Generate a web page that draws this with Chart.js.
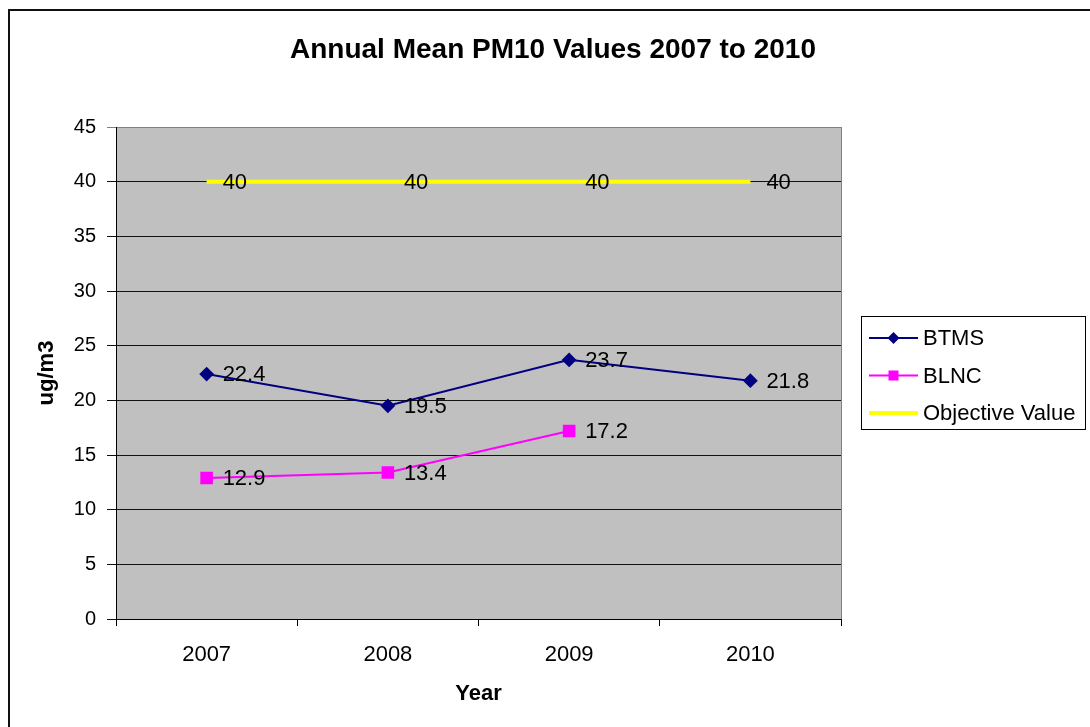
<!DOCTYPE html>
<html>
<head>
<meta charset="utf-8">
<title>Annual Mean PM10 Values 2007 to 2010</title>
<script src="https://cdn.jsdelivr.net/npm/chart.js@4/dist/chart.umd.min.js"></script>
<style>
	html, body { margin: 0; padding: 0; background: #fff; }
	#wrap { width: 1090px; height: 727px; }
</style>
</head>
<body>
<div id="wrap"><canvas id="pm10" width="1090" height="727"></canvas></div>
<script>
var years = [ '2007', '2008', '2009', '2010' ];
var btms = [ 22.4, 19.5, 23.7, 21.8 ];
var blnc = [ 12.9, 13.4, 17.2, null ];
var objective = [ 40, 40, 40, 40 ];
var yTicks = [ 0, 5, 10, 15, 20, 25, 30, 35, 40, 45 ];
var chartTitle = 'Annual Mean PM10 Values 2007 to 2010';

( function () {
	'use strict';

	var FONT = '"Liberation Sans", Arial, sans-serif';

	// gray plot area, outer chart frame and the title (centred on the frame, not the plot)
	var plotBackground = {
		id: 'plotBackground',
		beforeDraw: function ( chart ) {
			var ctx = chart.ctx;
			var a = chart.chartArea;
			ctx.save();
			ctx.fillStyle = '#fff';
			ctx.fillRect( 0, 0, chart.width, chart.height );
			ctx.fillStyle = '#c0c0c0';
			ctx.fillRect( a.left, a.top, a.right - a.left, a.bottom - a.top );
			ctx.strokeStyle = '#111';
			ctx.lineWidth = 2;
			ctx.strokeRect( 9, 10, chart.width + 20, chart.height + 20 );
			ctx.fillStyle = '#000';
			ctx.font = 'bold 28px ' + FONT;
			ctx.textAlign = 'center';
			ctx.textBaseline = 'middle';
			ctx.fillText( chartTitle, 553, 50 );
			ctx.restore();
		},
		beforeDatasetsDraw: function ( chart ) {
			var ctx = chart.ctx;
			var a = chart.chartArea;
			ctx.save();
			ctx.strokeStyle = '#808080';
			ctx.lineWidth = 1;
			ctx.beginPath();
			ctx.moveTo( a.right + 0.5, a.top );
			ctx.lineTo( a.right + 0.5, a.bottom );
			ctx.stroke();
			ctx.restore();
		},
	};

	var valueLabels = {
		id: 'valueLabels',
		afterDatasetsDraw: function ( chart ) {
			var ctx = chart.ctx;
			ctx.save();
			ctx.font = '22px ' + FONT;
			ctx.fillStyle = '#000';
			ctx.textAlign = 'left';
			ctx.textBaseline = 'middle';
			chart.data.datasets.forEach( function ( ds, i ) {
				var meta = chart.getDatasetMeta( i );
				meta.data.forEach( function ( pt, j ) {
					var v = ds.data[ j ];
					if ( v === null || v === undefined ) {
						return;
					}
					ctx.fillText( String( v ), pt.x + 16, pt.y + 1 );
				} );
			} );
			ctx.restore();
		},
	};

	// Excel style boxed legend on the right
	var boxLegend = {
		id: 'boxLegend',
		afterDraw: function ( chart ) {
			var ctx = chart.ctx;
			var left = 861, top = 316, w = 224, h = 113;
			ctx.save();
			ctx.fillStyle = '#fff';
			ctx.fillRect( left, top, w, h );
			ctx.strokeStyle = '#000';
			ctx.lineWidth = 1;
			ctx.strokeRect( left + 0.5, top + 0.5, w, h );
			ctx.font = '22px ' + FONT;
			ctx.textAlign = 'left';
			ctx.textBaseline = 'middle';
			chart.data.datasets.forEach( function ( ds, i ) {
				var y = top + 22 + i * 37.5;
				var x0 = left + 8, x1 = left + 57, cx = ( x0 + x1 ) / 2;
				ctx.strokeStyle = ds.borderColor;
				ctx.lineWidth = ds.borderWidth;
				ctx.beginPath();
				ctx.moveTo( x0, y );
				ctx.lineTo( x1, y );
				ctx.stroke();
				ctx.fillStyle = ds.pointBackgroundColor;
				if ( ds.pointStyle === 'rectRot' && ds.pointRadius ) {
					ctx.beginPath();
					ctx.moveTo( cx, y - 6 );
					ctx.lineTo( cx + 6, y );
					ctx.lineTo( cx, y + 6 );
					ctx.lineTo( cx - 6, y );
					ctx.closePath();
					ctx.fill();
				} else if ( ds.pointStyle === 'rect' && ds.pointRadius ) {
					ctx.fillRect( cx - 5, y - 5, 10, 10 );
				}
				ctx.fillStyle = '#000';
				ctx.fillText( ds.label, left + 62, y + 1 );
			} );
			ctx.restore();
		},
	};

	function initChart() {
		var canvas = document.getElementById( 'pm10' );
		Chart.defaults.font.family = FONT;
		Chart.defaults.color = '#000';

		new Chart( canvas, {
			type: 'line',
			data: {
				labels: years,
				datasets: [
					{
						label: 'BTMS',
						data: btms,
						borderColor: '#000080',
						backgroundColor: '#000080',
						pointBackgroundColor: '#000080',
						pointBorderColor: '#000080',
						borderWidth: 2,
						pointStyle: 'rectRot',
						pointRadius: 6,
						tension: 0,
					},
					{
						label: 'BLNC',
						data: blnc,
						borderColor: '#ff00ff',
						backgroundColor: '#ff00ff',
						pointBackgroundColor: '#ff00ff',
						pointBorderColor: '#ff00ff',
						borderWidth: 2,
						pointStyle: 'rect',
						pointRadius: 7.5,
						tension: 0,
					},
					{
						label: 'Objective Value',
						data: objective,
						borderColor: '#ffff00',
						backgroundColor: '#ffff00',
						pointBackgroundColor: '#ffff00',
						borderWidth: 4,
						pointRadius: 0,
						tension: 0,
					},
				],
			},
			options: {
				responsive: false,
				animation: false,
				events: [],
				layout: {
					padding: { top: 127, left: 20, right: 249, bottom: 8 },
				},
				plugins: {
					legend: { display: false },
					tooltip: { enabled: false },
					title: { display: false },
				},
				scales: {
					x: {
						type: 'category',
						offset: true,
						afterFit: function ( scale ) {
							scale.height = 100;
						},
						grid: {
							offset: true,
							drawOnChartArea: false,
							tickLength: 7,
							color: '#000',
						},
						border: { color: '#000', width: 1 },
						ticks: {
							color: '#000',
							font: { size: 22 },
							padding: 16,
						},
						title: {
							display: true,
							text: 'Year',
							color: '#000',
							font: { size: 22, weight: 'bold' },
							padding: { top: 0, bottom: 12 },
						},
					},
					y: {
						min: 0,
						max: 45,
						afterFit: function ( scale ) {
							scale.width = 96;
						},
						afterBuildTicks: function ( scale ) {
							scale.ticks = yTicks.map( function ( v ) {
								return { value: v };
							} );
						},
						grid: {
							tickLength: 9,
							color: function ( ctx ) {
								return ctx.tick && ctx.tick.value === 45 ? '#808080' : '#111';
							},
						},
						border: { color: '#000', width: 1 },
						ticks: {
							color: '#000',
							font: { size: 20 },
							padding: 11,
						},
						title: {
							display: true,
							text: 'ug/m3',
							color: '#000',
							font: { size: 22, weight: 'bold' },
							padding: { top: 14, bottom: 0 },
						},
					},
				},
			},
			plugins: [ plotBackground, valueLabels, boxLegend ],
		} );
	}

	if ( document.readyState === 'loading' ) {
		document.addEventListener( 'DOMContentLoaded', initChart );
	} else {
		initChart();
	}
} )();
</script>
</body>
</html>
